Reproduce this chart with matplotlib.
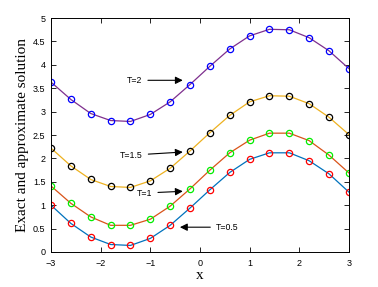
import numpy as np
import matplotlib
matplotlib.use("Agg")
import matplotlib.pyplot as plt

x = [-3.0, -2.6, -2.2, -1.8, -1.4, -1.0, -0.6, -0.2, 0.2, 0.6, 1.0, 1.4, 1.8, 2.2, 2.6, 3.0]

u_t05 = [1.00, 0.61, 0.32, 0.16, 0.14, 0.29, 0.57, 0.94, 1.33, 1.70, 1.98, 2.12, 2.12, 1.95, 1.67, 1.28]
u_t1 = [1.41, 1.04, 0.75, 0.57, 0.57, 0.70, 0.98, 1.35, 1.75, 2.12, 2.39, 2.54, 2.54, 2.38, 2.07, 1.69]
u_t15 = [2.22, 1.84, 1.55, 1.40, 1.38, 1.52, 1.79, 2.16, 2.55, 2.92, 3.21, 3.34, 3.33, 3.17, 2.88, 2.51]
u_t2 = [3.63, 3.26, 2.96, 2.81, 2.79, 2.94, 3.21, 3.58, 3.97, 4.34, 4.62, 4.76, 4.75, 4.58, 4.30, 3.92]

series = [u_t05, u_t1, u_t15, u_t2]
line_colors = ['#0072BD', '#D95319', '#EDB120', '#7E2F8E']
marker_colors = ['red', '#00ee00', 'black', 'blue']

fig = plt.figure(figsize=(3.78, 2.87), dpi=100)
ax = fig.add_axes([0.135, 0.122, 0.788, 0.815])

for y, lc, mc in zip(series, line_colors, marker_colors):
    ax.plot(x, y, '-', color=lc, lw=0.9)
    ax.plot(x, y, 'o', mfc='none', mec=mc, ms=4.5, mew=0.9)

ax.set_xlim(-3, 3)
ax.set_ylim(0, 5)
ax.set_xticks(np.arange(-3, 4, 1))
ax.set_yticks(np.arange(0, 5.5, 0.5))
ax.set_yticklabels(['0', '0.5', '1', '1.5', '2', '2.5', '3', '3.5', '4', '4.5', '5'])
ax.tick_params(direction='in', top=True, right=True, length=3.5, width=0.6,
               labelsize=6.5)
ax.tick_params(axis='x', pad=5)
ax.tick_params(axis='y', pad=4)
for lab in ax.get_xticklabels() + ax.get_yticklabels():
    lab.set_family('Liberation Sans')
for s in ax.spines.values():
    s.set_linewidth(0.7)

ax.set_xlabel('x', family='Liberation Serif', fontsize=11, labelpad=1)
ax.set_ylabel('Exact and approximate solution', family='Liberation Serif',
              fontsize=11, labelpad=3)

arr = dict(arrowstyle='-|>', color='black', lw=0.8, mutation_scale=11)
txt = dict(family='Liberation Sans', fontsize=6.3, va='center')
ax.annotate('T=2', xy=(-0.29, 3.67), xytext=(-1.47, 3.67), arrowprops=arr, ha='left', **txt)
ax.annotate('T=1.5', xy=(-0.29, 2.14), xytext=(-1.61, 2.07), arrowprops=arr, ha='left', **txt)
ax.annotate('T=1', xy=(-0.29, 1.30), xytext=(-1.27, 1.26), arrowprops=arr, ha='left', **txt)
ax.annotate('T=0.5', xy=(-0.46, 0.53), xytext=(0.32, 0.53), arrowprops=arr, ha='left', **txt)

fig.savefig('out.png', dpi=100, facecolor='white')
